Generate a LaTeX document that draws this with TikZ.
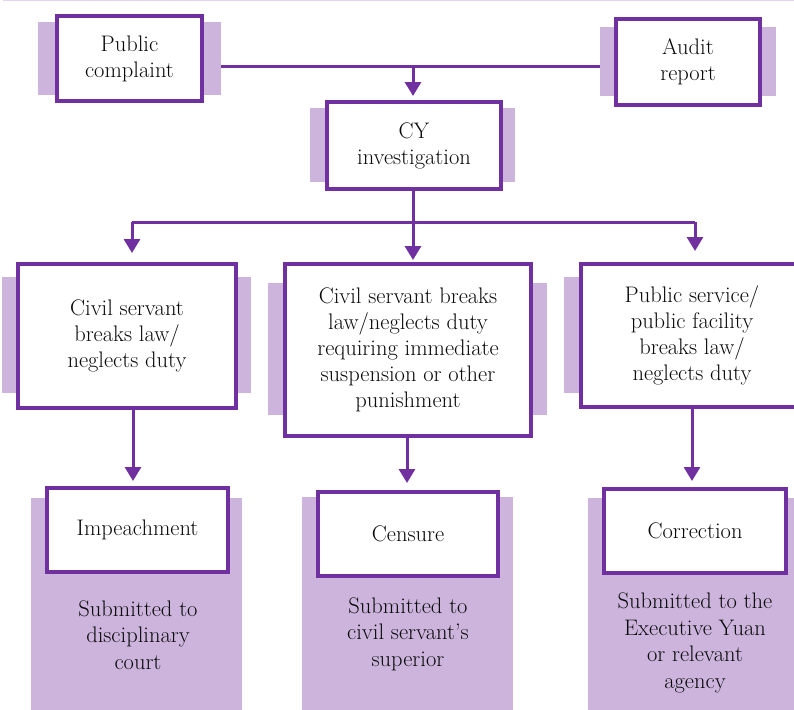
\documentclass[tikz,border=0pt]{standalone}
\usetikzlibrary{arrows.meta}
\definecolor{pdark}{HTML}{7030A0}
\definecolor{plight}{HTML}{CCB4DD}
\definecolor{ptop}{HTML}{E2D3EC}
\definecolor{ink}{HTML}{0A0A0A}
\tikzset{
  box/.style={draw=pdark, line width=4pt, fill=white, align=center, text=ink,
    font=\fontsize{22.5}{26}\selectfont, inner sep=0pt},
  back/.style={fill=plight, draw=none, inner sep=0pt},
  ptext/.style={align=center, text=ink, font=\fontsize{22.5}{26.5}\selectfont, inner sep=0pt},
  conn/.style={draw=pdark, line width=3pt},
  arr/.style={conn, -{Triangle[width=16pt,length=14pt]}}
}
\begin{document}
\begin{tikzpicture}[x=1pt,y=-1pt]
\useasboundingbox (0,0) rectangle (794,709);
\draw[ptop, line width=1.5pt] (3,0.75) -- (794,0.75);
% back rectangles
\node[back, minimum width=183, minimum height=73] (pcb) at (129.5,58.5) {};
\node[back, minimum width=176, minimum height=69] (aub) at (688,61.5) {};
\node[back, minimum width=205, minimum height=74] (cyb) at (412.5,145) {};
\node[back, minimum width=249, minimum height=116] (lbb) at (126.5,335) {};
\node[back, minimum width=279, minimum height=132] (mbb) at (407.5,349) {};
\node[back, minimum width=252, minimum height=116] (rbb) at (690,335) {};
% bottom panels
\node[back, minimum width=211, minimum height=214] (lp) at (136.5,605) {};
\node[back, minimum width=211, minimum height=215] (mp) at (407.5,604.5) {};
\node[back, minimum width=214, minimum height=214] (rp) at (695,605) {};
% boxes
\node[box, minimum width=145, minimum height=85] (pc) at (129.5,58.5) {Public\\complaint};
\node[box, minimum width=144, minimum height=86] (au) at (688,62) {Audit\\report};
\node[box, minimum width=174, minimum height=87] (cy) at (414,145.5) {CY\\investigation};
\node[box, minimum width=218, minimum height=144] (lb) at (127,336) {Civil servant\\breaks law/\\neglects duty};
\node[box, minimum width=246, minimum height=172] (mb) at (408,350) {Civil servant breaks\\law/neglects duty\\requiring immediate\\suspension or other\\punishment};
\node[box, minimum width=222, minimum height=143] (rb) at (692,335.5) {Public service/\\public facility\\breaks law/\\neglects duty};
\node[box, minimum width=181, minimum height=84] (imp) at (137.5,530) {Impeachment};
\node[box, minimum width=180, minimum height=84] (cen) at (408,534) {Censure};
\node[box, minimum width=182, minimum height=84] (cor) at (695,531) {Correction};
% panel texts
\node[ptext] (lpt) at (138,635) {Submitted to\\disciplinary\\court};
\node[ptext] (mpt) at (408,634) {Submitted to\\civil servant's\\superior};
\node[ptext] (rpt) at (695,643) {Submitted to the\\Executive Yuan\\or relevant\\agency};
% connectors
\coordinate (j1) at (413,66);
\coordinate (bl) at (132,222);
\coordinate (br) at (695,222);
\draw[conn] (pcb.east |- j1) -- (aub.west |- j1);
\draw[arr, shorten >=4pt] (j1) -- (j1 |- cy.north);
\draw[arr, shorten >=2pt] (cy.south -| j1) -- (j1 |- mb.north);
\draw[conn] (bl) -- (br);
\draw[arr, shorten >=9pt] (bl) -- (bl |- lb.north);
\draw[arr, shorten >=11pt] (br) -- (br |- rb.north);
\draw[arr, shorten >=5pt] ([xshift=6pt]lb.south) -- ([xshift=6pt]lb.south |- imp.north);
\draw[arr, shorten >=7pt] ([xshift=-1pt]mb.south) -- ([xshift=-1pt]mb.south |- cen.north);
\draw[arr, shorten >=6pt] (rb.south) -- (rb.south |- cor.north);
\end{tikzpicture}
\end{document}
